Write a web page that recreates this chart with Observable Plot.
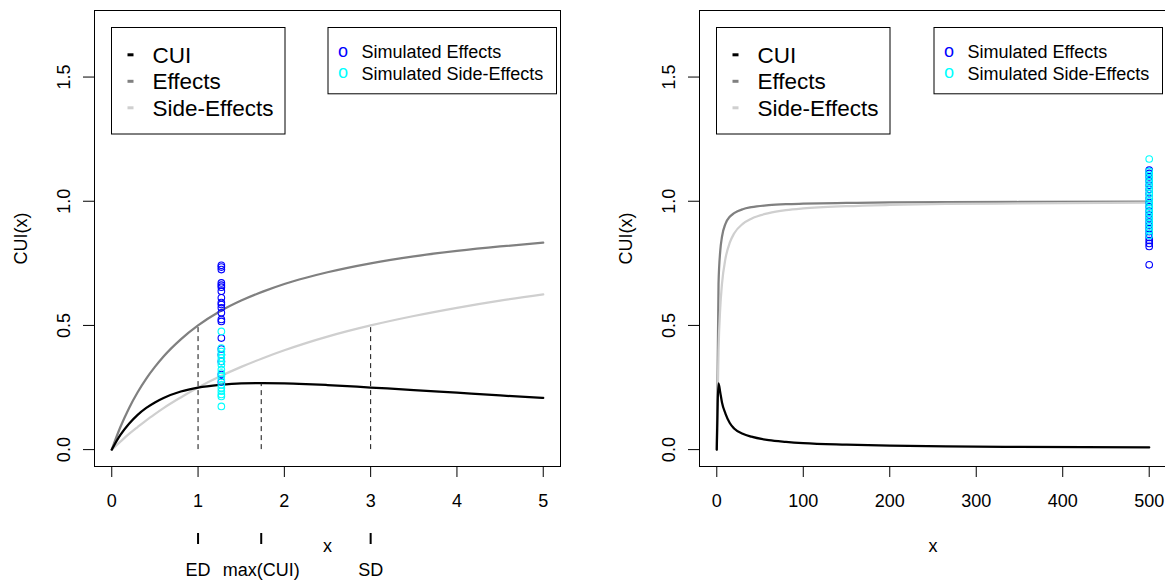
<!DOCTYPE html>
<html><head><meta charset="utf-8">
<script src="https://cdn.jsdelivr.net/npm/d3@7"></script>
<script src="https://cdn.jsdelivr.net/npm/@observablehq/plot@0.6"></script>
<style>
body{margin:0;background:#fff;}
#wrap{position:relative;width:1165px;height:580px;overflow:hidden;background:#fff;}
#left,#right{position:absolute;top:0;height:580px;}
#left{left:0;width:582px}
#right{left:582px;width:600px}
#wrap svg{max-width:none !important;}
</style></head><body><div id="wrap"><div id="left"></div><div id="right"></div></div>
<script>
// ---- data ----
const yTicks = [0, 0.5, 1.0, 1.5];
const yTickLabels = ["0.0", "0.5", "1.0", "1.5"];

const leftXTicks = [0, 1, 2, 3, 4, 5];
const rightXTicks = [0, 100, 200, 300, 400, 500];

// left panel curves
const leftX       = [0, 0.1, 0.2, 0.3, 0.4, 0.5, 0.6, 0.8, 1.0, 1.25, 1.5, 1.75, 2.0, 2.25, 2.5, 3.0, 3.5, 4.0, 4.5, 5.0];
const leftEffects = [0, 0.091, 0.167, 0.231, 0.286, 0.333, 0.375, 0.444, 0.50, 0.556, 0.60, 0.636, 0.667, 0.692, 0.714, 0.75, 0.778, 0.80, 0.818, 0.833];
const leftSide    = [0, 0.032, 0.063, 0.091, 0.118, 0.143, 0.167, 0.21, 0.25, 0.294, 0.333, 0.368, 0.40, 0.429, 0.455, 0.50, 0.538, 0.571, 0.60, 0.625];
const leftCUI     = [0, 0.059, 0.104, 0.14, 0.168, 0.19, 0.208, 0.234, 0.25, 0.261, 0.267, 0.268, 0.267, 0.264, 0.26, 0.25, 0.24, 0.229, 0.218, 0.208];

// right panel curves
const rightX       = [0, 2, 4, 6, 10, 15, 20, 30, 40, 60, 80, 100, 150, 200, 265, 350, 500];
const rightEffects = [0, 0.667, 0.80, 0.857, 0.909, 0.9375, 0.952, 0.968, 0.976, 0.984, 0.988, 0.99, 0.993, 0.995, 0.996, 0.997, 0.998];
const rightSide    = [0, 0.40, 0.571, 0.667, 0.769, 0.833, 0.87, 0.909, 0.93, 0.952, 0.964, 0.971, 0.98, 0.985, 0.989, 0.991, 0.994];
const rightCUI     = [0, 0.267, 0.23, 0.19, 0.145, 0.107, 0.085, 0.064, 0.052, 0.038, 0.031, 0.026, 0.02, 0.016, 0.013, 0.011, 0.009];

// simulated points
const leftSimX = 1.27;
const leftSimEffects = [0.742, 0.735, 0.725, 0.671, 0.662, 0.654, 0.638, 0.611, 0.592, 0.584, 0.571, 0.551, 0.524, 0.516, 0.449, 0.405, 0.382, 0.355, 0.302, 0.272];
const leftSimSide    = [0.476, 0.409, 0.395, 0.382, 0.369, 0.355, 0.342, 0.322, 0.308, 0.295, 0.281, 0.261, 0.248, 0.235, 0.222, 0.214, 0.174];
const rightSimX = 500;
const rightSimEffects = [1.125, 1.112, 1.098, 1.082, 1.064, 1.047, 1.03, 1.012, 0.995, 0.978, 0.96, 0.945, 0.93, 0.915, 0.902, 0.89, 0.878, 0.866, 0.854, 0.842, 0.83, 0.818, 0.744];
const rightSimSide    = [1.17, 1.12, 1.105, 1.09, 1.075, 1.06, 1.045, 1.03, 1.015, 1.0, 0.985, 0.97, 0.955, 0.94, 0.925, 0.91, 0.895, 0.88, 0.862];

// reference markers (left panel)
const markerX = [1, 1.732, 3];
const markerTop = [0.5, 0.268, 0.5];
const markerLabels = ["ED", "max(CUI)", "SD"];

const lineLegend = ["CUI", "Effects", "Side-Effects"];
const pointLegend = ["Simulated Effects", "Simulated Side-Effects"];
const yTitle = "CUI(x)";
const xTitle = "x";

// ---- styling ----
const FONT = "'Liberation Sans', Arial, Helvetica, sans-serif";
const colCUI = "#000000", colEff = "#808080", colSide = "#cfcfcf";
const colSimEff = "#0000ff", colSimSide = "#00ffff";
const lineColors = [colCUI, colEff, colSide];
const pointColors = [colSimEff, colSimSide];

function legendMark() {
  return (index, scales, values, dims) => {
    const g = d3.create("svg:g").attr("font-family", FONT).attr("fill", "black").attr("text-anchor", "start");
    const fl = dims.marginLeft, ft = dims.marginTop, fr = dims.width - dims.marginRight;
    const b1x = fl + 17.5, b1y = ft + 17.5;
    g.append("rect").attr("x", b1x).attr("y", b1y).attr("width", 173.5).attr("height", 106.5)
      .attr("fill", "white").attr("stroke", "black").attr("stroke-width", 1);
    lineLegend.forEach((lab, i) => {
      const cy = b1y + 27.3 + i * 26.5;
      g.append("rect").attr("x", b1x + 16).attr("y", cy - 1.5).attr("width", 6).attr("height", 3).attr("fill", lineColors[i]);
      g.append("text").attr("x", b1x + 41).attr("y", cy).attr("dy", "0.36em").attr("text-anchor", "start")
        .attr("font-size", 22.5).text(lab);
    });
    const w2 = 228.5;
    const b2x = fr - 3.5 - w2, b2y = ft + 17.5;
    g.append("rect").attr("x", b2x).attr("y", b2y).attr("width", w2).attr("height", 66.3)
      .attr("fill", "white").attr("stroke", "black").attr("stroke-width", 1);
    pointLegend.forEach((lab, i) => {
      const cy = b2y + 24 + i * 21.6;
      g.append("text").attr("x", b2x + 15).attr("y", cy).attr("dy", "0.28em").attr("text-anchor", "middle")
        .attr("font-size", 18).attr("fill", pointColors[i]).text("o");
      g.append("text").attr("x", b2x + 33.5).attr("y", cy).attr("dy", "0.36em").attr("text-anchor", "start")
        .attr("font-size", 18).text(lab);
    });
    return g.node();
  };
}

function panel(cfg) {
  const curveRows = cfg.xs.map((x, i) => ({x, e: cfg.eff[i], s: cfg.side[i], c: cfg.cui[i]}));
  const simRows = [
    ...cfg.simEff.map(y => ({x: cfg.simX, y, k: "e"})),
    ...cfg.simSide.map(y => ({x: cfg.simX, y, k: "s"}))
  ];
  const marks = [
    Plot.line(curveRows, {x: "x", y: "e", stroke: colEff, strokeWidth: 2.25, curve: "monotone-x"}),
    Plot.line(curveRows, {x: "x", y: "s", stroke: colSide, strokeWidth: 2.25, curve: "monotone-x"}),
    Plot.line(curveRows, {x: "x", y: "c", stroke: colCUI, strokeWidth: 2.25, curve: "monotone-x"}),
  ];
  if (cfg.markers) {
    const mRows = markerX.map((x, i) => ({x, top: markerTop[i]}));
    marks.push(Plot.ruleX(mRows, {x: "x", y1: 0, y2: "top", stroke: "#111", strokeWidth: 1, strokeDasharray: "5,4"}));
  }
  marks.push(
    Plot.dot(simRows, {x: "x", y: "y", r: 3.3, fill: "none", strokeWidth: 1.1,
      stroke: d => d.k === "e" ? colSimEff : colSimSide}),
    Plot.frame({stroke: "black", strokeWidth: 1}),
    Plot.axisX({ticks: cfg.xTicks, tickSize: 11, tickPadding: 17, fontSize: 18, label: null, tickFormat: d => String(d)}),
    Plot.axisY({ticks: yTicks, tickSize: 11, label: null, tickFormat: () => ""}),
    Plot.text(yTicks, {y: d => d, text: (d, i) => yTickLabels[i], frameAnchor: "left", dx: -30, rotate: -90,
      textAnchor: "middle", lineAnchor: "middle", fontSize: 18}),
    Plot.text([yTitle], {text: d => d, frameAnchor: "left", dx: -73, rotate: -90, textAnchor: "middle", lineAnchor: "middle", fontSize: 18}),
    Plot.text([xTitle], {text: d => d, frameAnchor: "bottom", dy: 80, lineAnchor: "middle", fontSize: 18}),
    legendMark()
  );
  if (cfg.markers) {
    marks.push(Plot.axisX({ticks: markerX, tickSize: 11, strokeWidth: 2, dy: 67, tickPadding: 19, fontSize: 18, label: null,
      tickFormat: d => markerLabels[markerX.indexOf(d)]}));
  }
  return Plot.plot({
    width: cfg.width, height: 580,
    marginTop: 10, marginBottom: 114, marginLeft: cfg.marginLeft, marginRight: cfg.marginRight,
    style: {fontFamily: FONT, fontSize: "18px", background: "transparent", color: "black", overflow: "visible", maxWidth: "none"},
    x: {domain: cfg.xDomain},
    y: {domain: [-0.068, 1.768]},
    marks
  });
}

document.getElementById("left").append(panel({
  width: 582, marginLeft: 94, marginRight: 22, xDomain: [-0.2, 5.2], xTicks: leftXTicks,
  xs: leftX, eff: leftEffects, side: leftSide, cui: leftCUI,
  simX: leftSimX, simEff: leftSimEffects, simSide: leftSimSide, markers: true
}));
document.getElementById("right").append(panel({
  width: 600, marginLeft: 117, marginRight: 16, xDomain: [-20, 520], xTicks: rightXTicks,
  xs: rightX, eff: rightEffects, side: rightSide, cui: rightCUI,
  simX: rightSimX, simEff: rightSimEffects, simSide: rightSimSide, markers: false
}));
</script>
</body></html>
